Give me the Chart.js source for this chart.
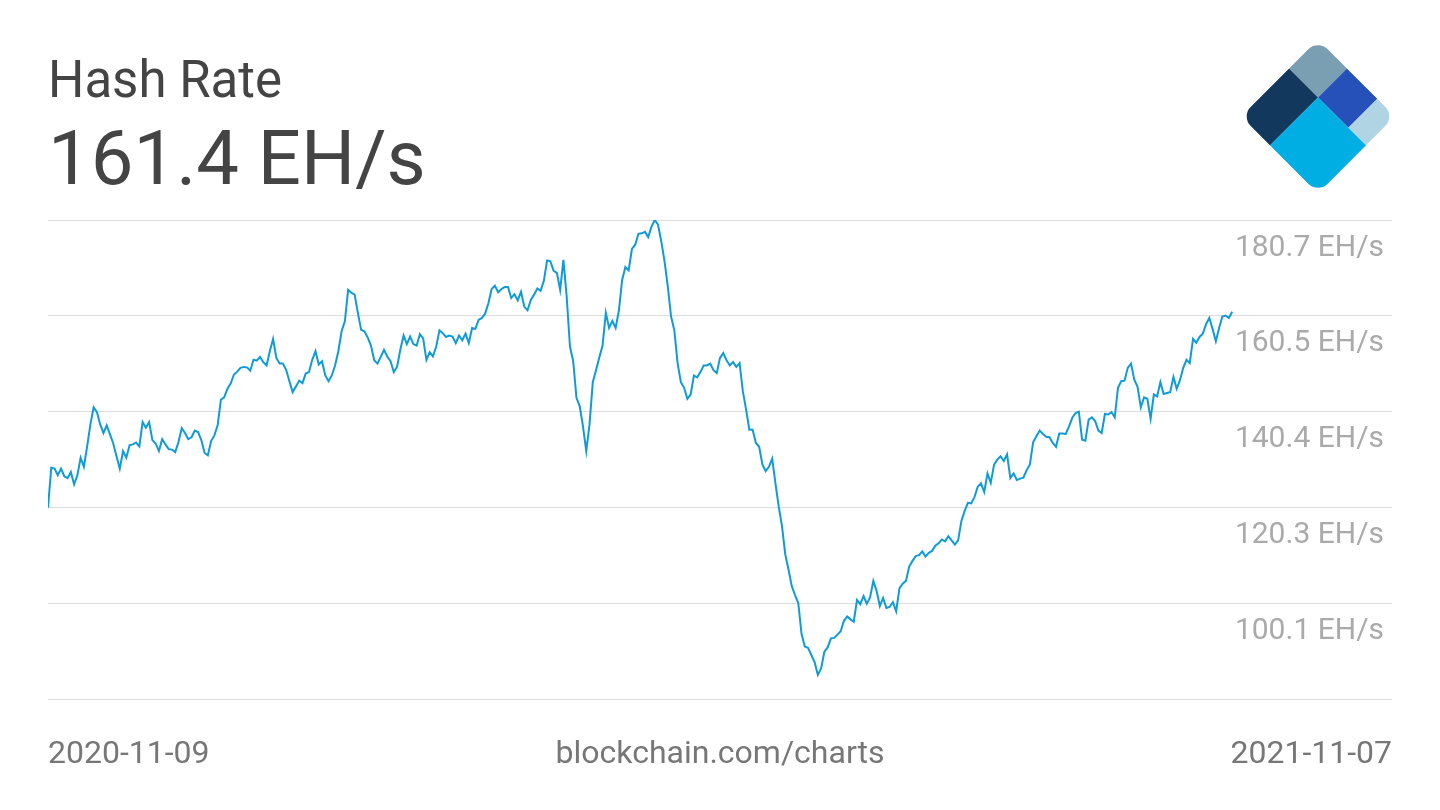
<!DOCTYPE html>
<html>
<head>
<meta charset="utf-8">
<title>Hash Rate</title>
<script src="https://cdn.jsdelivr.net/npm/chart.js@4.4.0/dist/chart.umd.min.js"></script>
<style>
  html, body { margin: 0; padding: 0; background: #fff; }
  #page { position: relative; width: 1440px; height: 810px; overflow: hidden; font-family: Roboto, "Noto Sans", sans-serif; }
  #chartBox { position: absolute; left: 0; top: 0; width: 1440px; height: 810px; }
  .head { position: absolute; left: 48px; line-height: 1; color: #444; white-space: nowrap; }
  #title { top: 54px; font-size: 51px; }
  #current { top: 120px; font-size: 76px; }
  #logo { position: absolute; left: 0; top: 0; }
</style>
</head>
<body>
<div id="page">
  <div id="chartBox"><canvas id="hashChart"></canvas></div>
  <div class="head" id="title">Hash Rate</div>
  <div class="head" id="current">161.4 EH/s</div>
  <svg id="logo" width="1440" height="210">
    <defs>
      <clipPath id="diamondClip"><rect x="0" y="0" width="109" height="109" rx="14" ry="14"/></clipPath>
    </defs>
    <g transform="translate(1318,39.4) rotate(45)" clip-path="url(#diamondClip)">
      <rect x="0" y="0" width="41" height="41" fill="#7a9eb2"/>
      <rect x="0" y="41" width="41" height="68" fill="#13385e"/>
      <rect x="41" y="0" width="43" height="41" fill="#2651b9"/>
      <rect x="84" y="0" width="25" height="41" fill="#b0d4e4"/>
      <rect x="41" y="41" width="68" height="68" fill="#00aee4"/>
    </g>
  </svg>
</div>
<script>
// daily hash rate, EH/s, from 2020-11-09 (day 0) to 2021-11-07
const hashRate = [
  120.2, 128.6, 128.4, 127.0, 128.4, 126.8, 126.4, 127.7, 125.1, 127.0,
  130.7, 128.8, 133.1, 137.7, 141.3, 140.3, 137.7, 135.9, 137.5, 135.6,
  133.7, 131.0, 128.4, 132.1, 130.7, 133.3, 133.5, 133.9, 133.1, 138.2,
  137.0, 138.2, 134.4, 133.7, 132.1, 134.6, 133.5, 132.5, 132.4, 131.9,
  134.0, 136.9, 135.9, 134.6, 135.0, 136.4, 136.1, 134.4, 131.7, 131.2,
  134.2, 135.4, 137.5, 142.9, 143.4, 145.2, 146.3, 148.2, 148.8, 149.6,
  149.8, 149.7, 149.0, 151.3, 151.1, 151.9, 150.8, 150.1, 153.1, 155.7,
  151.7, 150.5, 150.5, 149.2, 146.8, 144.5, 145.7, 146.9, 146.4, 148.4,
  148.7, 151.3, 153.1, 150.3, 151.0, 148.0, 146.8, 148.0, 150.1, 153.1,
  157.3, 159.4, 166.0, 165.4, 165.0, 161.1, 157.6, 157.3, 156.0, 154.3,
  151.2, 150.5, 151.9, 153.4, 152.0, 151.0, 148.7, 149.8, 153.4, 156.4,
  154.6, 156.2, 154.6, 154.3, 156.7, 155.8, 151.3, 152.9, 152.0, 154.1,
  157.5, 156.9, 156.1, 156.4, 156.2, 154.8, 156.4, 155.4, 156.8, 154.8,
  158.0, 157.8, 159.7, 160.1, 161.0, 163.2, 166.2, 166.9, 165.5, 166.2,
  166.6, 166.6, 164.3, 165.1, 163.8, 165.6, 162.5, 161.7, 163.9, 165.0,
  166.3, 165.8, 167.9, 172.2, 172.0, 170.0, 169.6, 166.0, 172.3, 164.6,
  154.1, 151.0, 143.3, 141.5, 137.3, 132.1, 137.7, 146.6, 149.1, 151.8,
  154.3, 161.2, 158.0, 159.5, 158.0, 161.6, 168.1, 170.8, 170.1, 174.6,
  175.5, 177.8, 177.9, 178.2, 177.1, 179.3, 180.7, 179.7, 176.2, 172.0,
  166.7, 160.4, 157.5, 150.6, 146.6, 145.4, 143.1, 144.0, 148.0, 147.6,
  148.7, 150.1, 150.1, 150.5, 149.1, 148.5, 151.7, 152.7, 151.2, 150.1,
  150.8, 149.8, 150.6, 144.7, 140.8, 136.6, 136.6, 133.8, 133.0, 129.3,
  127.9, 128.8, 130.5, 125.3, 120.4, 116.3, 110.4, 107.2, 103.7, 101.8,
  100.1, 93.6, 91.0, 90.7, 89.2, 87.7, 85.0, 86.4, 89.9, 90.8,
  92.7, 92.8, 93.5, 94.2, 96.4, 97.3, 96.7, 96.2, 100.8, 99.9,
  101.6, 100.0, 101.3, 104.8, 102.7, 99.5, 101.2, 99.1, 99.3, 100.3,
  98.4, 103.2, 104.2, 104.8, 107.8, 109.0, 110.0, 110.2, 111.0, 109.9,
  110.7, 111.1, 112.2, 112.7, 113.5, 113.1, 114.2, 113.3, 112.4, 113.3,
  117.4, 119.5, 121.2, 121.1, 122.4, 124.6, 125.3, 123.5, 127.4, 125.4,
  129.2, 130.3, 131.0, 130.0, 131.4, 126.4, 127.4, 126.0, 126.3, 126.5,
  128.1, 129.3, 134.0, 135.2, 136.4, 135.7, 135.1, 135.0, 133.8, 133.0,
  135.8, 135.8, 135.7, 137.3, 139.1, 140.1, 140.4, 134.5, 134.3, 138.7,
  139.2, 138.4, 136.4, 135.9, 139.9, 139.8, 140.3, 139.2, 145.4, 146.8,
  146.9, 149.6, 150.5, 147.1, 145.6, 141.3, 143.4, 143.1, 138.9, 144.0,
  143.6, 146.6, 144.1, 144.3, 144.5, 147.7, 145.2, 147.0, 149.6, 151.3,
  150.6, 155.7, 154.9, 156.1, 156.8, 158.8, 160.1, 157.8, 155.2, 158.0,
  160.4, 160.6, 160.1, 161.4
];

const yTicks = [180.7, 160.55, 140.4, 120.25, 100.1, 79.95];
const yTickLabels = ['180.7 EH/s', '160.5 EH/s', '140.4 EH/s', '120.3 EH/s', '100.1 EH/s', ''];
const xTickLabels = ['2020-11-09', 'blockchain.com/charts', '2021-11-07'];
const xMax = 412;   // axis runs past the last day so the labels have room

const points = hashRate.map((v, i) => ({ x: i, y: v }));

new Chart(document.getElementById('hashChart'), {
  type: 'line',
  data: {
    datasets: [{
      data: points,
      borderColor: '#0f9bd7',
      borderWidth: 2,
      pointRadius: 0,
      tension: 0,
      fill: false
    }]
  },
  options: {
    responsive: true,
    maintainAspectRatio: false,
    animation: false,
    layout: { padding: { left: 48, right: 48, top: 220, bottom: 0 } },
    plugins: { legend: { display: false }, tooltip: { enabled: false } },
    scales: {
      x: {
        type: 'linear',
        min: 0,
        max: xMax,
        grid: { display: false },
        border: { display: false },
        afterBuildTicks: s => { s.ticks = [{ value: 0 }, { value: xMax / 2 }, { value: xMax }]; },
        afterFit: s => { s.height = 111; },
        ticks: {
          align: 'inner',
          autoSkip: false,
          maxRotation: 0,
          padding: 29,
          color: '#777',
          font: { family: 'Roboto', size: 32 },
          callback: (v, i) => xTickLabels[i]
        }
      },
      y: {
        position: 'right',
        min: 79.95,
        max: 180.7,
        grid: { color: '#dcdcdc', lineWidth: 1, drawTicks: false },
        border: { display: false },
        afterBuildTicks: s => { s.ticks = yTicks.map(v => ({ value: v })); },
        afterFit: s => { s.width = 0; },
        ticks: {
          mirror: true,
          padding: -8,
          labelOffset: 28,
          color: '#aaa',
          font: { family: 'Roboto', size: 30 },
          callback: (v, i) => yTickLabels[i]
        }
      }
    }
  }
});
</script>
</body>
</html>
